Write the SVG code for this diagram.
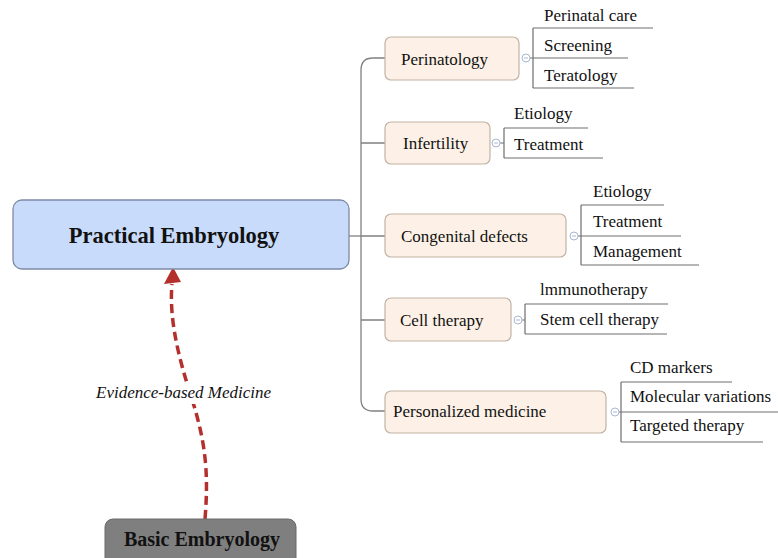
<svg xmlns="http://www.w3.org/2000/svg" width="778" height="558" viewBox="0 0 778 558">
<style>
.t{font-family:"Liberation Serif","Times New Roman",serif;font-size:17px;fill:#111}
.big{font-weight:bold;font-size:22.5px}
.bas{font-weight:bold;font-size:20px}
.ev{font-style:italic;font-size:17px}
.main{fill:#fdf1e7;stroke:#c2b3a3;stroke-width:1.2}
.ln{fill:none;stroke:#6e6e6e;stroke-width:1.2}
.tr{fill:none;stroke:#808080;stroke-width:1.3}
.cc{fill:#fff;stroke:#a9b6d3;stroke-width:1}
.cm{stroke:#a9b6d3;stroke-width:1}
</style>
<rect width="778" height="558" fill="#fff"/>
<g id="connectors">
<path class="tr" d="M349,236 H361"/>
<path class="tr" d="M385,58 H373 Q361,58 361,70 V399 Q361,411 373,411 H385"/>
<path class="tr" d="M361,143 H385 M361,236 H385 M361,320 H385"/>
<path d="M205,519 C209,470 205,440 191,396 C178,356 169,318 172,284" fill="none" stroke="#b3302d" stroke-width="3.5" stroke-dasharray="9,5"/>
<polygon points="173,267 164,284 181,282" fill="#b3302d"/>
<rect x="94" y="383" width="182" height="21" fill="#fff"/>
<text x="96" y="398" class="t ev">Evidence-based Medicine</text>
</g>
<g id="practical">
<rect x="13" y="200" width="336" height="69" rx="9" fill="#c9dbfa" stroke="#7d8ba6" stroke-width="1.3"/>
<text x="174" y="243" class="t big" text-anchor="middle">Practical Embryology</text>
</g>
<g id="basic">
<rect x="105" y="519" width="191" height="50" rx="8" fill="#7f7f7f" stroke="#6a6a6a" stroke-width="1"/>
<text x="202" y="546" class="t bas" text-anchor="middle">Basic Embryology</text>
</g>
<g id="perinatology">
<rect class="main" x="385" y="37" width="134" height="43" rx="6"/>
<text x="401" y="65" class="t">Perinatology</text>
<path class="ln" d="M530,58 H628 M533,28 V88 M533,28 H653 M533,88 H634"/>
<circle class="cc" cx="526" cy="58" r="4"/><path class="cm" d="M524,58 H528"/>
<text x="544" y="21" class="t">Perinatal care</text>
<text x="544" y="51" class="t">Screening</text>
<text x="544" y="81" class="t">Teratology</text>
</g>
<g id="infertility">
<rect class="main" x="385" y="122" width="105" height="42" rx="6"/>
<text x="403" y="149" class="t">Infertility</text>
<path class="ln" d="M500,143 H504 M504,128 V158 M504,128 H588 M504,158 H603"/>
<circle class="cc" cx="496" cy="143" r="4"/><path class="cm" d="M494,143 H498"/>
<text x="514" y="119" class="t">Etiology</text>
<text x="514" y="150" class="t">Treatment</text>
</g>
<g id="congenital">
<rect class="main" x="385" y="214" width="181" height="43" rx="6"/>
<text x="401" y="242" class="t">Congenital defects</text>
<path class="ln" d="M578,236 H681 M581,205 V265 M581,205 H664 M581,265 H699"/>
<circle class="cc" cx="574" cy="236" r="4"/><path class="cm" d="M572,236 H576"/>
<text x="593" y="197" class="t">Etiology</text>
<text x="593" y="227" class="t">Treatment</text>
<text x="593" y="257" class="t">Management</text>
</g>
<g id="celltherapy">
<rect class="main" x="385" y="298" width="126" height="43" rx="6"/>
<text x="400" y="326" class="t">Cell therapy</text>
<path class="ln" d="M522,320 H525 M525,304 V334 M525,304 H668 M525,334 H667"/>
<circle class="cc" cx="518" cy="320" r="4"/><path class="cm" d="M516,320 H520"/>
<text x="540" y="295" class="t">lmmunotherapy</text>
<text x="540" y="325" class="t">Stem cell therapy</text>
</g>
<g id="personalized">
<rect class="main" x="385" y="391" width="221" height="42" rx="6"/>
<text x="393" y="417" class="t">Personalized medicine</text>
<path class="ln" d="M619,412 H778 M621,382 V442 M621,382 H732 M621,442 H763"/>
<circle class="cc" cx="615" cy="412" r="4"/><path class="cm" d="M613,412 H617"/>
<text x="630" y="373" class="t">CD markers</text>
<text x="630" y="402" class="t">Molecular variations</text>
<text x="630" y="431" class="t">Targeted therapy</text>
</g>
</svg>
